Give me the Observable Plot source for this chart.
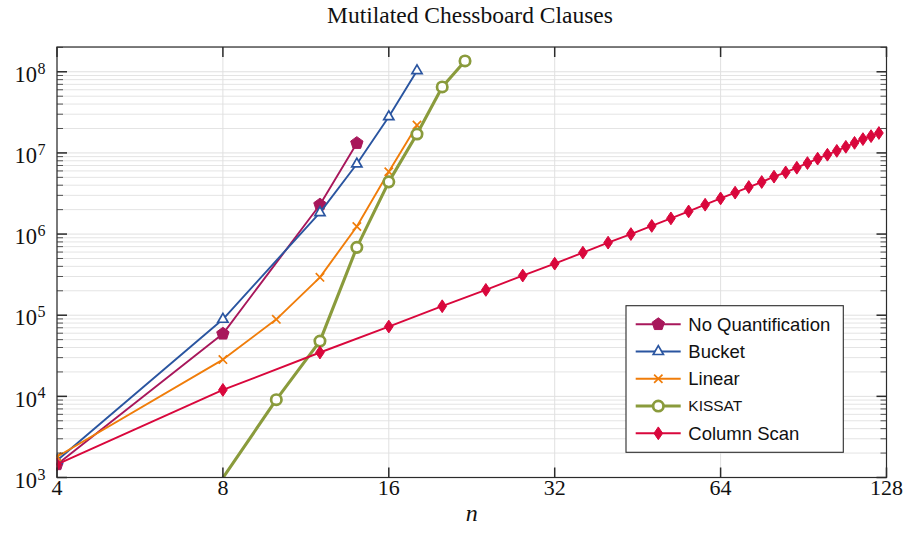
<!DOCTYPE html>
<html>
<head>
<meta charset="utf-8">
<script src="https://cdn.jsdelivr.net/npm/d3@7"></script>
<script src="https://cdn.jsdelivr.net/npm/@observablehq/plot@0.6"></script>
<style>
  html, body { margin: 0; padding: 0; background: #fff; }
  #title { box-sizing: border-box; height: 36px; padding-top: 4px; padding-left: 34px; text-align: center;
           font-family: "Liberation Serif", serif; font-size: 23.5px; line-height: 23px; color: #111; }
  #chart svg { display: block; }
</style>
</head>
<body>
<div id="title">Mutilated Chessboard Clauses</div>
<div id="chart"></div>
<script>
// ---------------- data ----------------
const xTicks = [4, 8, 16, 32, 64, 128];
const yMajor = [1e3, 1e4, 1e5, 1e6, 1e7, 1e8];

const nqN = [4, 8, 12, 14];
const nqV = [1450, 59000, 2.3e6, 1.32e7];

const bucketN = [4, 8, 12, 14, 16, 18];
const bucketV = [1620, 89000, 1.84e6, 7.3e6, 2.79e7, 1.03e8];

const linearN = [4, 8, 10, 12, 14, 16, 18];
const linearV = [1800, 28400, 89000, 293000, 1.24e6, 5.86e6, 2.2e7];

const kissatN = [8, 10, 12, 14, 16, 18, 20, 22];
const kissatV = [990, 9100, 48000, 686000, 4.4e6, 1.71e7, 6.5e7, 1.36e8];

const colN = [4, 8, 12, 16, 20, 24, 28, 32, 36, 40, 44, 48, 52, 56, 60, 64,
              68, 72, 76, 80, 84, 88, 92, 96, 100, 104, 108, 112, 116, 120, 124];
const colV = [1450, 12000, 34700, 72500, 129000, 205000, 308000, 432000, 590000, 784000,
              1.0e6, 1.26e6, 1.56e6, 1.9e6, 2.3e6, 2.75e6, 3.24e6, 3.8e6, 4.38e6, 5.1e6,
              5.75e6, 6.57e6, 7.5e6, 8.5e6, 9.5e6, 1.06e7, 1.19e7, 1.33e7, 1.48e7, 1.61e7, 1.76e7];

// ---------------- symbols ----------------
const rad = size => Math.sqrt(size / Math.PI);
const pentagon = { draw(ctx, size) { const r = rad(size);
  for (let i = 0; i < 5; i++) { const a = -Math.PI / 2 + i * 2 * Math.PI / 5;
    const px = r * Math.cos(a), py = r * Math.sin(a);
    i ? ctx.lineTo(px, py) : ctx.moveTo(px, py); } ctx.closePath(); } };
const triangle = { draw(ctx, size) { const r = rad(size);
  ctx.moveTo(0, -r); ctx.lineTo(r * 0.866, r * 0.5); ctx.lineTo(-r * 0.866, r * 0.5); ctx.closePath(); } };
const cross = { draw(ctx, size) { const a = rad(size) * 0.72;
  ctx.moveTo(-a, -a); ctx.lineTo(a, a); ctx.moveTo(-a, a); ctx.lineTo(a, -a); } };
const circle = { draw(ctx, size) { const r = rad(size); ctx.moveTo(r, 0); ctx.arc(0, 0, r, 0, 2 * Math.PI); } };
const diamond = { draw(ctx, size) { const r = rad(size);
  ctx.moveTo(0, -r); ctx.lineTo(r * 0.68, 0); ctx.lineTo(0, r); ctx.lineTo(-r * 0.68, 0); ctx.closePath(); } };
const tick = (dx, dy) => ({ draw(ctx) { ctx.moveTo(0, 0); ctx.lineTo(dx, dy); } });

// ---------------- series ----------------
const series = [
  { name: "No Quantification", n: nqN, v: nqV, color: "#a8175b", sym: pentagon, r: 6.5, fill: true, sw: 1.9, msw: 1 },
  { name: "Bucket", n: bucketN, v: bucketV, color: "#2a55a0", sym: triangle, r: 5.9, fill: false, sw: 1.9, msw: 1.7 },
  { name: "Linear", n: linearN, v: linearV, color: "#f07d0a", sym: cross, r: 5.8, fill: false, sw: 1.9, msw: 1.7 },
  { name: "KISSAT", n: kissatN, v: kissatV, color: "#8a9b3c", sym: circle, r: 5.2, fill: false, sw: 3.1, msw: 2.7 },
  { name: "Column Scan", n: colN, v: colV, color: "#d9073c", sym: diamond, r: 6.4, fill: true, sw: 1.9, msw: 1 }
];
const rows = series.flatMap(s => s.n.map((n, i) => ({ series: s.name, n, v: s.v[i] })));
const fillOf = s => s.fill ? s.color : (s.sym === circle || s.sym === triangle ? "white" : "none");

const yMinor = [];
for (const m of yMajor) for (let k = 2; k <= 9; k++) if (m * k <= 2.02e8) yMinor.push(m * k);

const serif = "Liberation Serif, serif";
const titleH = 36;

const marks = [
  Plot.ruleY(yMinor, { y: d => d, stroke: "#e4e4e4", strokeWidth: 1 }),
  Plot.ruleY(yMajor, { y: d => d, stroke: "#e0e0e0", strokeWidth: 1 }),
  Plot.ruleX(xTicks, { x: d => d, stroke: "#e0e0e0", strokeWidth: 1 })
];
for (const s of series) {
  const d = rows.filter(r => r.series === s.name);
  marks.push(Plot.line(d, { x: "n", y: "v", stroke: s.color, strokeWidth: s.sw, clip: true }));
  marks.push(Plot.dot(d.filter(r => r.v >= 1000), {
    x: "n", y: "v", symbol: s.sym, r: s.r, fill: fillOf(s),
    stroke: s.color, strokeWidth: s.msw, clip: true
  }));
}
marks.push(
  Plot.frame({ stroke: "#2b2b2b", strokeWidth: 1.2 }),
  Plot.dot(yMajor, { y: d => d, frameAnchor: "left", symbol: tick(10, 0), stroke: "#2b2b2b", fill: "none" }),
  Plot.dot(yMinor, { y: d => d, frameAnchor: "left", symbol: tick(6, 0), stroke: "#2b2b2b", fill: "none", strokeWidth: 0.8 }),
  Plot.dot(yMajor, { y: d => d, frameAnchor: "right", symbol: tick(-10, 0), stroke: "#2b2b2b", fill: "none" }),
  Plot.dot(yMinor, { y: d => d, frameAnchor: "right", symbol: tick(-6, 0), stroke: "#2b2b2b", fill: "none", strokeWidth: 0.8 }),
  Plot.dot(xTicks, { x: d => d, frameAnchor: "bottom", symbol: tick(0, -10), stroke: "#2b2b2b", fill: "none" }),
  Plot.dot(xTicks, { x: d => d, frameAnchor: "top", symbol: tick(0, 10), stroke: "#2b2b2b", fill: "none" }),
  Plot.text(yMajor, { y: d => d, frameAnchor: "left", text: () => "10", textAnchor: "end", dx: -20, dy: 3,
    fontSize: 22.5, fontFamily: serif, fill: "#111" }),
  Plot.text(yMajor, { y: d => d, frameAnchor: "left", text: d => String(Math.round(Math.log10(d))), textAnchor: "start",
    dx: -19.5, dy: -3, fontSize: 16, fontFamily: serif, fill: "#111" }),
  Plot.text(xTicks, { x: d => d, frameAnchor: "bottom", text: d => String(d), dy: 17,
    fontSize: 22, fontFamily: serif, fill: "#111" }),
  Plot.text(["n"], { frameAnchor: "bottom", text: d => d, dy: 43, fontSize: 24, fontStyle: "italic",
    fontFamily: serif, fill: "#111" })
);

const svg = Plot.plot({
  width: 906, height: 534 - titleH,
  marginLeft: 56.5, marginRight: 20, marginTop: 46.5 - titleH, marginBottom: 57,
  x: { type: "log", base: 2, domain: [4, 128], axis: null },
  y: { type: "log", domain: [1000, 2.02e8], axis: null },
  marks
});
document.getElementById("chart").appendChild(svg);

// ---------------- legend ----------------
const g = d3.select(svg).append("g").attr("text-anchor", "start");
const bx0 = 626, bx1 = 843.3, by0 = 305.7 - titleH, by1 = 452.3 - titleH;
g.append("rect").attr("x", bx0).attr("y", by0).attr("width", bx1 - bx0).attr("height", by1 - by0)
  .attr("fill", "white").attr("stroke", "#2b2b2b").attr("stroke-width", 1.1);
series.forEach((s, i) => {
  const yy = 324.3 + 27.25 * i - titleH;
  g.append("line").attr("x1", 635.7).attr("x2", 680.7).attr("y1", yy).attr("y2", yy)
    .attr("stroke", s.color).attr("stroke-width", s.sw);
  g.append("path").attr("transform", `translate(658.3,${yy})`)
    .attr("d", d3.symbol(s.sym, s.r * s.r * Math.PI)())
    .attr("fill", fillOf(s)).attr("stroke", s.color).attr("stroke-width", s.msw);
  const small = s.name === "KISSAT";
  g.append("text").attr("x", 688.3).attr("y", yy).attr("dy", "0.35em").attr("text-anchor", "start")
    .attr("font-family", "Liberation Sans, Arial, sans-serif")
    .attr("font-size", small ? 15.5 : 18.5).attr("fill", "#111").text(s.name);
});
</script>
</body>
</html>
